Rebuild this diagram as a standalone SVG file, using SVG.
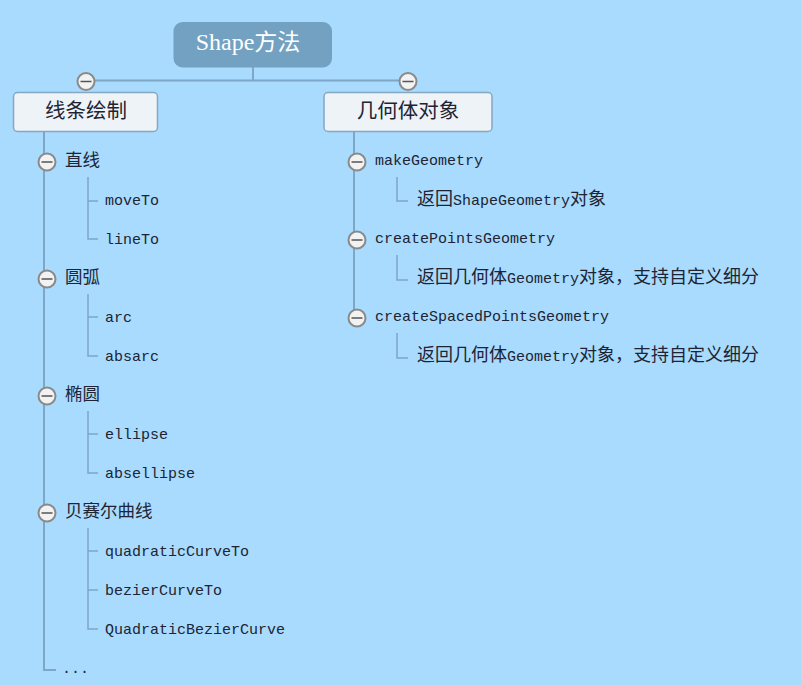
<svg xmlns="http://www.w3.org/2000/svg" width="801" height="685" viewBox="0 0 801 685">
<style>
.ln{fill:none;stroke:#7ea6c6;stroke-width:2}
.sub{fill:none;stroke:#7ea6c6;stroke-width:1.5}
.tg circle{fill:#f2f2f2;stroke:#8a8a8a;stroke-width:2}
.tg line{stroke:#555;stroke-width:1.5}
.t{font-family:"Liberation Mono","Noto Sans CJK SC",monospace;font-size:15px;fill:#1e2433}
.c{font-family:"Noto Sans CJK SC",sans-serif;font-size:17.5px}
.c2{font-family:"Noto Sans CJK SC",sans-serif;font-size:18px}
.box{fill:#eef3f7;stroke:#84a7c2;stroke-width:1.5}
.h{font-family:"Noto Sans CJK SC",sans-serif;font-size:20.5px;fill:#1e2433;text-anchor:middle}
</style>
<defs>
<g id="tog" class="tg"><circle r="8.5"/><line x1="-5.5" y1="0" x2="5.5" y2="0"/></g>
</defs>
<rect width="801" height="685" fill="#a8dbfe"/>
<g id="connectors">
<path class="ln" d="M253,67 V80.5 M86,80.5 H408"/>
<path class="ln" d="M44,131 V670 H56"/>
<path class="ln" d="M354,131 V318"/>
<path class="sub" d="M88,177 V239 H98 M88,201 H98"/>
<path class="sub" d="M88,294 V356 H98 M88,317 H98"/>
<path class="sub" d="M88,411 V473 H98 M88,434 H98"/>
<path class="sub" d="M88,528 V629 H98 M88,551 H98 M88,590 H98"/>
<path class="sub" d="M397,177 V201 H408"/>
<path class="sub" d="M397,255 V280 H408"/>
<path class="sub" d="M397,333 V358 H408"/>
</g>
<g id="root">
<rect x="173.5" y="22" width="158.5" height="45.5" rx="9" fill="#73a1c1"/>
<text x="248" y="50" text-anchor="middle" fill="#ffffff"><tspan font-family="Liberation Serif,serif" font-size="24">Shape</tspan><tspan font-family="Noto Sans CJK SC,sans-serif" font-size="23">方法</tspan></text>
</g>
<g id="n-line">
<use href="#tog" x="86" y="81.5"/>
<rect class="box" x="13.5" y="92.5" width="144" height="39" rx="4"/>
<text class="h" x="86" y="118">线条绘制</text>
</g>
<g id="n-geo">
<use href="#tog" x="408" y="81.5"/>
<rect class="box" x="324" y="92.5" width="168" height="39" rx="4"/>
<text class="h" x="408" y="118">几何体对象</text>
</g>
<g id="b-zhixian"><use href="#tog" x="47" y="162"/><text class="t" x="65" y="166"><tspan class="c">直线</tspan></text></g>
<g id="l-moveTo"><text class="t" x="105" y="205">moveTo</text></g>
<g id="l-lineTo"><text class="t" x="105" y="244">lineTo</text></g>
<g id="b-yuanhu"><use href="#tog" x="47" y="279"/><text class="t" x="65" y="283"><tspan class="c">圆弧</tspan></text></g>
<g id="l-arc"><text class="t" x="105" y="322">arc</text></g>
<g id="l-absarc"><text class="t" x="105" y="361">absarc</text></g>
<g id="b-tuoyuan"><use href="#tog" x="47" y="396"/><text class="t" x="65" y="400"><tspan class="c">椭圆</tspan></text></g>
<g id="l-ellipse"><text class="t" x="105" y="439">ellipse</text></g>
<g id="l-absellipse"><text class="t" x="105" y="478">absellipse</text></g>
<g id="b-bezier"><use href="#tog" x="47" y="513"/><text class="t" x="65" y="517"><tspan class="c">贝赛尔曲线</tspan></text></g>
<g id="l-quad"><text class="t" x="105" y="556">quadraticCurveTo</text></g>
<g id="l-bez"><text class="t" x="105" y="595">bezierCurveTo</text></g>
<g id="l-qbc"><text class="t" x="105" y="634">QuadraticBezierCurve</text></g>
<g id="l-more"><text class="t" x="62" y="673">...</text></g>
<g id="b-make"><use href="#tog" x="357" y="162"/><text class="t" x="375" y="165">makeGeometry</text></g>
<g id="l-make"><text class="t" x="417" y="205"><tspan class="c2">返回</tspan>ShapeGeometry<tspan class="c2">对象</tspan></text></g>
<g id="b-points"><use href="#tog" x="357" y="240"/><text class="t" x="375" y="243">createPointsGeometry</text></g>
<g id="l-points"><text class="t" x="417" y="283"><tspan class="c2">返回几何体</tspan>Geometry<tspan class="c2">对象，支持自定义细分</tspan></text></g>
<g id="b-spaced"><use href="#tog" x="357" y="318"/><text class="t" x="375" y="321">createSpacedPointsGeometry</text></g>
<g id="l-spaced"><text class="t" x="417" y="361"><tspan class="c2">返回几何体</tspan>Geometry<tspan class="c2">对象，支持自定义细分</tspan></text></g>
</svg>
